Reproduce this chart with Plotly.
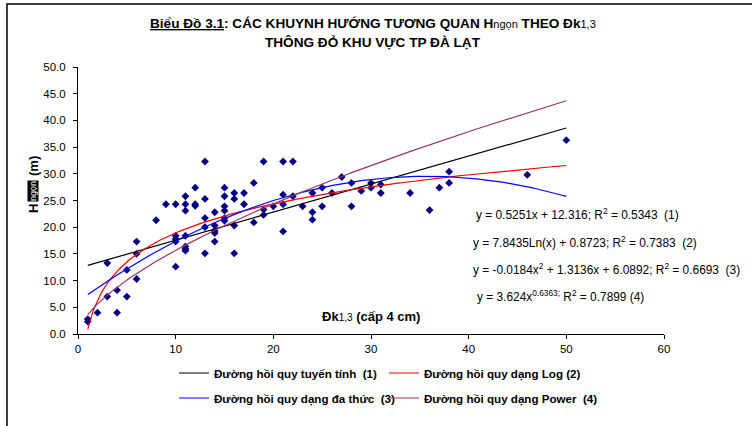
import numpy as np
import plotly.graph_objects as go

# ---- data ----
x_dk = [1, 1, 2, 3, 3, 4, 4, 5, 5, 6, 6, 6, 8, 9,
        10, 10, 10, 10, 10,
        11, 11, 11, 11, 11, 11, 11,
        12, 12, 12,
        13, 13, 13, 13, 13,
        14, 14, 14, 14, 14,
        15, 15, 15, 15, 15, 15,
        16, 16, 16, 16,
        17, 17,
        18, 18,
        19, 19, 19,
        20,
        21, 21, 21, 21,
        22, 22,
        23,
        24, 24, 24,
        25, 25,
        26, 27,
        28, 28,
        29,
        30, 30,
        31, 31,
        34, 36, 37, 38, 38, 46, 50]
y_h = [2.3, 2.8, 4.0, 13.3, 7.0, 8.2, 4.0, 12.0, 7.0, 17.3, 15.0, 10.3, 21.3, 24.3,
       24.3, 18.4, 17.8, 17.3, 12.6,
       25.8, 24.3, 23.1, 18.4, 16.4, 15.9, 15.6,
       27.4, 24.3, 24.0,
       32.3, 25.3, 21.7, 20.0, 15.1,
       22.8, 20.3, 19.3, 18.9, 17.3,
       27.4, 25.8, 23.9, 23.1, 21.7, 21.2,
       26.4, 25.3, 20.3, 15.1,
       26.4, 24.3,
       28.3, 20.9,
       32.3, 23.3, 22.3,
       23.9,
       32.3, 26.1, 24.3, 19.2,
       32.3, 25.8,
       23.9,
       26.4, 22.8, 21.4,
       27.4, 23.9,
       26.4, 29.4,
       28.3, 23.9,
       26.8,
       28.3, 27.4,
       28.0, 26.4,
       26.4, 23.2, 27.4, 30.4, 28.3, 29.8, 36.3]

# trend-line coefficients as printed on the chart
lin_coef = [0.5251, 12.316]            # y = a x + b
log_coef = [7.8435, 0.8723]            # y = a ln(x) + b
poly_coef = [-0.0184, 1.3136, 6.0892]  # y = a x^2 + b x + c
pow_coef = [3.624, 0.6363]             # y = a x^b
trend_range = [1, 50]

equations = [
    "y = 0.5251x + 12.316; R<sup>2</sup> = 0.5343  (1)",
    "y = 7.8435Ln(x) + 0.8723; R<sup>2</sup> = 0.7383  (2)",
    "y = -0.0184x<sup>2</sup> + 1.3136x + 6.0892; R<sup>2</sup> = 0.6693  (3)",
    "y = 3.624x<sup>0.6363;</sup> R<sup>2</sup> = 0.7899 (4)",
]
legend_names = [
    "Đường hồi quy tuyến tính  (1)",
    "Đường hồi quy dạng Log (2)",
    "Đường hồi quy dạng đa thức  (3)",
    "Đường hồi quy dạng Power  (4)",
]
x_ticks = [0, 10, 20, 30, 40, 50, 60]
y_ticks = [0, 5, 10, 15, 20, 25, 30, 35, 40, 45, 50]

# ---- layout geometry (pixels) ----
W, H = 752, 426
L, R, T, B = 78, 88, 67, 92
PW, PH = W - L - R, H - T - B


def px_x(px):
    return (px - L) / PW


def px_y(py):
    return (H - B - py) / PH


FONT = "Liberation Sans, Arial, sans-serif"

xs = np.linspace(trend_range[0], trend_range[1], 300)
curves = [
    (np.polyval(lin_coef, xs), "#000000"),
    (log_coef[0] * np.log(xs) + log_coef[1], "#FF0000"),
    (np.polyval(poly_coef, xs), "#0000FF"),
    (pow_coef[0] * xs ** pow_coef[1], "#993366"),
]

fig = go.Figure()
fig.add_trace(go.Scatter(
    x=x_dk, y=y_h, mode="markers", showlegend=False,
    marker=dict(symbol="diamond", size=6, color="#000080"),
))
legend_ids = ["legend", "legend2", "legend3", "legend4"]
for (yy, col), name, lg in zip(curves, legend_names, legend_ids):
    fig.add_trace(go.Scatter(
        x=xs, y=yy, mode="lines", name=name, legend=lg,
        line=dict(color=col, width=1.2),
    ))

# legends positions (text start px, row center px)
leg_pos = [(214, 373), (424, 373), (214, 398), (424, 398)]
leg_cfg = {}
for lg, (tx, ty) in zip(legend_ids, leg_pos):
    leg_cfg[lg] = dict(
        x=(tx - 40) / W, y=1 - ty / H, xref="container", yref="container",
        xanchor="left", yanchor="middle", bgcolor="rgba(0,0,0,0)",
        font=dict(family=FONT, size=11.6, color="#000000", weight="bold"),
        itemwidth=30,
    )

annotations = []
# title
annotations.append(dict(
    x=px_x(373), y=px_y(23), xref="paper", yref="paper", showarrow=False,
    xanchor="center", yanchor="middle",
    text=("<b><u>Biểu Đồ 3.1</u>: CÁC KHUYNH HƯỚNG TƯƠNG QUAN H</b>"
          "<span style='font-size:11px'>ngọn</span>"
          "<b> THEO Đk</b><span style='font-size:11px'>1,3</span>"),
    font=dict(family=FONT, size=13.6, color="#000000"),
))
annotations.append(dict(
    x=px_x(373), y=px_y(42), xref="paper", yref="paper", showarrow=False,
    xanchor="center", yanchor="middle",
    text="<b>THÔNG ĐỎ KHU VỰC TP ĐÀ LẠT</b>",
    font=dict(family=FONT, size=13.6, color="#000000"),
))
# y-axis label pieces
annotations.append(dict(
    x=px_x(33), y=px_y(209), xref="paper", yref="paper", showarrow=False,
    textangle=-90, xanchor="center", yanchor="middle",
    text="<b>H</b>", font=dict(family=FONT, size=13, color="#000000"),
))
annotations.append(dict(
    x=px_x(33), y=px_y(191), xref="paper", yref="paper", showarrow=False,
    textangle=-90, xanchor="center", yanchor="middle",
    text="ngọn", bgcolor="#000000", borderpad=0,
    font=dict(family=FONT, size=9, color="#FFFFFF"),
))
annotations.append(dict(
    x=px_x(33), y=px_y(166), xref="paper", yref="paper", showarrow=False,
    textangle=-90, xanchor="center", yanchor="middle",
    text="<b>(m)</b>", font=dict(family=FONT, size=13, color="#000000"),
))
# x-axis label (inside plot)
annotations.append(dict(
    x=px_x(320), y=px_y(316), xref="paper", yref="paper", showarrow=False,
    xanchor="left", yanchor="middle",
    text="<b>Đk</b><span style='font-size:10px'>1,3</span><b> (cấp 4 cm)</b>",
    font=dict(family=FONT, size=13, color="#000000"),
))
# equations
eq_pos = [(474, 214), (471, 242), (471, 269), (475, 296)]
for txt, (ex, ey) in zip(equations, eq_pos):
    annotations.append(dict(
        x=px_x(ex), y=px_y(ey), xref="paper", yref="paper", showarrow=False,
        xanchor="left", yanchor="middle", text=txt,
        font=dict(family=FONT, size=11.9, color="#000000"),
    ))

fig.update_layout(
    width=W, height=H, margin=dict(l=L, r=R, t=T, b=B, autoexpand=False),
    paper_bgcolor="#FFFFFF", plot_bgcolor="#FFFFFF",
    font=dict(family=FONT, size=11, color="#000000"),
    xaxis=dict(range=[0, 60], tickvals=x_ticks, ticktext=[str(v) for v in x_ticks],
               showgrid=False, zeroline=False, showline=True, linecolor="#000000",
               linewidth=1, ticks="outside", ticklen=4, tickcolor="#000000",
               tickfont=dict(family=FONT, size=11.5, color="#000000")),
    yaxis=dict(range=[0, 50], tickvals=y_ticks, tickformat=".1f",
               showgrid=False, zeroline=False, showline=True, linecolor="#000000",
               linewidth=1, ticks="outside", ticklen=4, tickcolor="#000000",
               ticklabelstandoff=5,
               tickfont=dict(family=FONT, size=11.5, color="#000000")),
    annotations=annotations,
    shapes=[dict(type="rect", xref="paper", yref="paper",
                 x0=px_x(7), x1=px_x(900), y0=px_y(600), y1=px_y(4),
                 line=dict(color="#000000", width=1.5), fillcolor="rgba(0,0,0,0)")],
    **leg_cfg,
)

fig.write_html("out.html",
               config={"displayModeBar": False},
               post_script="document.body.style.margin='0px';"
                           "document.body.style.overflow='hidden';")
